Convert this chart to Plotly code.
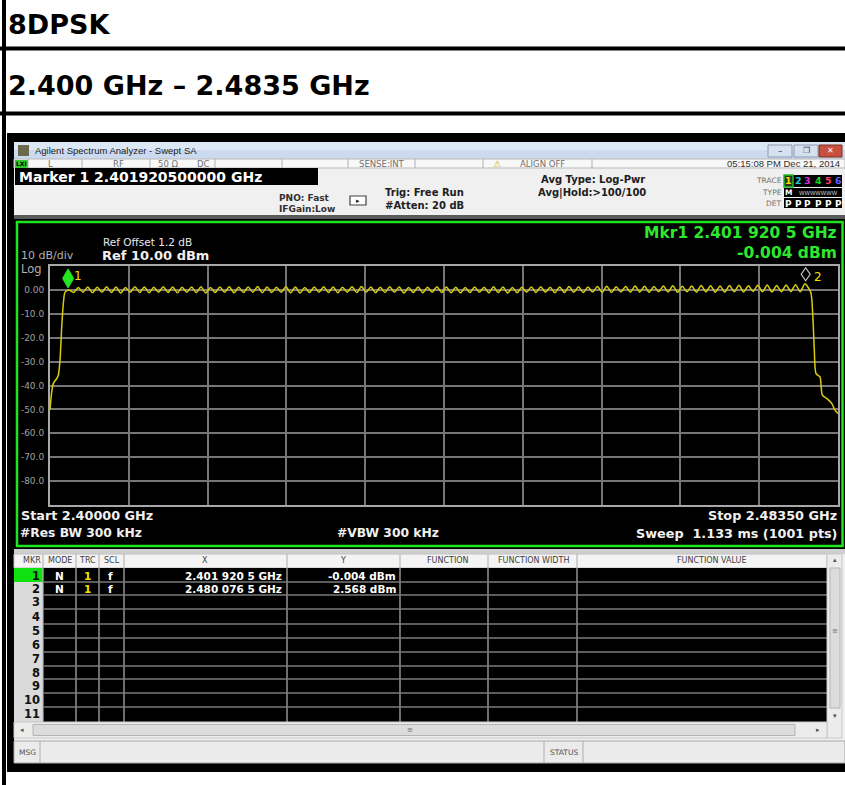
import plotly.graph_objects as go

W, H = 845, 785

# ---------------- data ----------------
heading_mode = "8DPSK"
heading_band = "2.400 GHz – 2.4835 GHz"

start_mhz = 2400.0
stop_mhz = 2483.5
ref_level_dbm = 10.0
bottom_dbm = -90.0

y_tick_values = [0, -10, -20, -30, -40, -50, -60, -70, -80]
y_tick_labels = ["0.00", "-10.0", "-20.0", "-30.0", "-40.0", "-50.0", "-60.0", "-70.0", "-80.0"]
x_grid_mhz = [2408.35, 2416.70, 2425.05, 2433.40, 2441.75, 2450.10, 2458.45, 2466.80, 2475.15]

# trace: lower band edge
left_edge_mhz = [2400.00, 2400.18, 2400.35, 2400.71, 2400.88, 2401.06, 2401.24, 2401.41, 2401.59]
left_edge_dbm = [-50.2, -42.7, -39.2, -37.1, -35.7, -29.5, -15.6, -5.8, -1.0]

# trace: 79 hopping channels (peak at each channel, dip between channels)
channel_mhz = list(range(2402, 2481))
channel_peak_dbm = [
    0.0, 1.0, 1.2, 1.1, 1.3, 1.2, 1.0, 1.3, 1.2, 1.1,
    1.3, 1.2, 1.1, 1.2, 1.3, 1.0, 1.2, 1.3, 1.1, 1.2,
    1.4, 1.2, 1.1, 1.3, 1.2, 1.0, 1.2, 1.3, 1.2, 1.1,
    1.3, 1.4, 1.2, 1.1, 1.3, 1.2, 1.0, 1.2, 1.1, 1.3,
    1.2, 1.1, 1.0, 1.2, 1.1, 1.3, 1.2, 1.0, 1.1, 1.2,
    1.3, 1.1, 1.2, 1.4, 1.3, 1.2, 1.4, 1.5, 1.3, 1.4,
    1.6, 1.5, 1.4, 1.6, 1.7, 1.5, 1.6, 1.8, 1.7, 1.6,
    1.8, 1.9, 1.7, 1.9, 2.0, 1.8, 2.1, 2.2, 2.57,
]
channel_dip_dbm = [
    -1.1, -1.0, -1.2, -1.0, -1.1, -1.3, -1.0, -1.1, -1.2, -1.0,
    -1.1, -1.2, -1.0, -1.1, -1.3, -1.1, -1.0, -1.2, -1.1, -1.0,
    -1.2, -1.1, -1.0, -1.2, -1.3, -1.1, -1.0, -1.1, -1.2, -1.0,
    -1.1, -1.0, -1.2, -1.1, -1.0, -1.3, -1.1, -1.2, -1.0, -1.1,
    -1.2, -1.3, -1.1, -1.0, -1.2, -1.1, -1.3, -1.2, -1.0, -1.1,
    -1.0, -1.2, -1.1, -1.0, -1.1, -0.9, -1.0, -1.1, -0.9, -1.0,
    -0.9, -1.0, -0.8, -0.9, -1.0, -0.8, -0.9, -0.8, -1.0, -0.9,
    -0.8, -0.9, -0.7, -0.8, -0.9, -0.8, -0.7, -0.8,
]

# trace: upper band edge
right_edge_mhz = [2480.61, 2480.82, 2480.99, 2481.17, 2481.59, 2481.84, 2482.30, 2482.83, 2483.18, 2483.50]
right_edge_dbm = [-1.0, -10.0, -25.0, -35.0, -36.4, -44.0, -45.4, -47.5, -50.3, -51.7]

marker_ids = ["1", "2"]
marker_mhz = [2401.9205, 2480.0765]
marker_dbm = [-0.004, 2.568]
marker_x_text = ["2.401 920 5 GHz", "2.480 076 5 GHz"]
marker_y_text = ["-0.004 dBm", "2.568 dBm"]

table_headers = ["MKR", "MODE", "TRC", "SCL", "X", "Y", "FUNCTION", "FUNCTION WIDTH", "FUNCTION VALUE"]
table_rows = list(range(1, 12))

# ---------------- build trace arrays ----------------
trace_x = list(left_edge_mhz)
trace_y = list(left_edge_dbm)
for i, c in enumerate(channel_mhz):
    trace_x.append(c)
    trace_y.append(channel_peak_dbm[i])
    if i < len(channel_dip_dbm):
        trace_x.append(c + 0.5)
        trace_y.append(channel_dip_dbm[i])
trace_x += right_edge_mhz
trace_y += right_edge_dbm

# ---------------- helpers ----------------
SF = "DejaVu Sans"
shapes = []
ann = []


def X(x):
    return x / W


def Y(y):
    return 1 - y / H


def rect(x0, y0, x1, y1, fill, lc=None, lw=0, layer="below"):
    shapes.append(dict(type="rect", xref="paper", yref="paper", x0=X(x0), x1=X(x1), y0=Y(y1), y1=Y(y0),
                       fillcolor=fill, line=dict(color=lc or "rgba(0,0,0,0)", width=lw), layer=layer))


def hl(x0, x1, y, color, lw=1, layer="below"):
    shapes.append(dict(type="line", xref="paper", yref="paper", x0=X(x0), x1=X(x1), y0=Y(y), y1=Y(y),
                       line=dict(color=color, width=lw), layer=layer))


def vl(x, y0, y1, color, lw=1, layer="below"):
    shapes.append(dict(type="line", xref="paper", yref="paper", x0=X(x), x1=X(x), y0=Y(y0), y1=Y(y1),
                       line=dict(color=color, width=lw), layer=layer))


def txt(x, y, s, size, color, anchor="left", bold=False, family=SF):
    ann.append(dict(xref="paper", yref="paper", x=X(x), y=Y(y), text=f"<b>{s}</b>" if bold else s,
                    showarrow=False, xanchor=anchor, yanchor="middle", borderpad=0,
                    font=dict(size=size, color=color, family=family)))


# ---------------- document frame ----------------
rect(2, 0, 6, 785, "black")
rect(0, 46.5, 845, 50.5, "black")
rect(0, 111.5, 845, 115.5, "black")
txt(7, 25, heading_mode, 27, "black", bold=True)
txt(7, 86, heading_band, 27, "black", bold=True)

# screenshot outer black
rect(7, 133, 845, 772, "black")
rect(14, 142, 845, 763, "#f0f0f0")

# title bar
rect(14, 142, 845, 150, "#dde8f6")
rect(14, 150, 845, 159, "#cbdaee")
rect(18, 145, 29, 156, "#6c6a4e")
txt(34, 150.5, "Agilent Spectrum Analyzer - Swept SA", 9.5, "#202020", family="Liberation Sans")
rect(768, 145, 792, 157, "#d6e0ee", "#8a9bb4", 1)
rect(794, 145, 818, 157, "#d6e0ee", "#8a9bb4", 1)
rect(819, 145, 842, 157, "#c94f3f", "#7a3020", 1)
txt(780, 151, "–", 9, "#304060", anchor="center")
txt(806, 151, "❐", 8, "#304060", anchor="center")
txt(830.5, 151, "✕", 8, "white", anchor="center", bold=True)

# status row
rect(14, 159, 845, 168, "#f8f8f8", "#b8b8b8", 1)
rect(15, 160, 28, 168, "#2ec82e")
txt(21.5, 164, "LXI", 6, "black", anchor="center", bold=True)
for sx in [28, 82, 150, 215, 282, 348, 415, 483, 592]:
    vl(sx, 159, 168, "#b0b0b0", 1)
txt(50, 164, "L", 8.5, "#707070", anchor="center")
txt(118, 164, "RF", 8.5, "#707070", anchor="center")
txt(168, 164, "50 Ω", 8.5, "#707070", anchor="center")
txt(203, 164, "DC", 8.5, "#707070", anchor="center")
txt(382, 164, "SENSE:INT", 8.5, "#707070", anchor="center")
txt(497, 164, "⚠", 9, "#c8a800", anchor="center")
txt(542, 164, "ALIGN OFF", 8.5, "#707070", anchor="center")
txt(841, 164, "05:15:08 PM Dec 21, 2014", 9.5, "#303030", anchor="right", family="Liberation Sans")

# marker line and info area
rect(15, 168, 318, 185, "black")
txt(18, 177, "Marker 1 2.401920500000 GHz", 14, "white", bold=True)
txt(278, 198, "PNO: Fast", 9, "#303030", bold=True)
txt(278, 209, "IFGain:Low", 9, "#303030", bold=True)
rect(350, 196, 366, 205, "white", "#404040", 1.2)
txt(358, 201, "▸", 7, "#202020", anchor="center")
txt(384, 193, "Trig: Free Run", 10, "#202020", bold=True)
txt(384, 206, "#Atten: 20 dB", 10, "#202020", bold=True)
txt(540, 180, "Avg Type: Log-Pwr", 10, "#202020", bold=True)
txt(537, 193, "Avg|Hold:>100/100", 10, "#202020", bold=True)

# trace panel
txt(783, 181, "TRACE", 7.5, "#707070", anchor="right")
txt(783, 192.5, "TYPE", 7.5, "#707070", anchor="right")
txt(783, 203.5, "DET", 7.5, "#707070", anchor="right")
rect(793, 175, 842, 187, "black")
rect(784, 175, 793, 187, "#303030", "#20c020", 1.5)
rect(784, 188, 842, 197, "black")
rect(784, 198, 842, 208, "black")
trace_nums = ["1", "2", "3", "4", "5", "6"]
trace_cols = ["#f0e000", "#20c8d8", "#d030d0", "#20d020", "#ff4060", "#6060ff"]
trace_px = [788.5, 798, 807, 818, 828, 838]
for n, c, xp in zip(trace_nums, trace_cols, trace_px):
    txt(xp, 181, n, 9.5, c, anchor="center", bold=True)
    txt(xp, 203.5, "P", 9, "white", anchor="center", bold=True)
txt(788.5, 192.5, "M", 7.5, "white", anchor="center", bold=True)
txt(818, 192.5, "WWWWWWW", 5.5, "#d0d0d0", anchor="center")

# display area
rect(14, 215, 845, 219, "#5a5a5a")
rect(14, 219, 845, 549, "black")
rect(17, 222, 842.5, 546, "rgba(0,0,0,0)", "#1ee61e", 2.5)
txt(102, 242, "Ref Offset 1.2 dB", 10.5, "#e8e8e8")
txt(101, 256, "Ref 10.00 dBm", 13, "#f0f0f0", bold=True)
txt(20, 256, "10 dB/div", 11, "#b0b0b0")
txt(20, 268.5, "Log", 11.5, "#b0b0b0")
txt(838, 233, "Mkr1 2.401 920 5 GHz", 15.5, "#2ee82e", anchor="right", bold=True)
txt(838, 253, "-0.004 dBm", 15.5, "#2ee82e", anchor="right", bold=True)
txt(20, 515, "Start 2.40000 GHz", 12.8, "#f0f0f0", bold=True)
txt(19, 533, "#Res BW 300 kHz", 12.3, "#f0f0f0", bold=True)
txt(388, 533, "#VBW 300 kHz", 12.3, "#f0f0f0", anchor="center", bold=True)
txt(838, 515, "Stop 2.48350 GHz", 12.8, "#f0f0f0", anchor="right", bold=True)
txt(838, 533, "Sweep  1.133 ms (1001 pts)", 12.8, "#f0f0f0", anchor="right", bold=True)

# marker table
rect(14, 549, 845, 554, "#cfcfcf")
rect(14, 554, 827, 568, "#f4f4f4", "#c0c0c0", 1)
rect(14, 568, 827, 722, "black")
rect(14, 568, 43, 722, "#dadada")
rect(14, 568, 43, 582, "#10e010")
col_sep = [43, 76, 99, 124, 287, 400, 488, 577]
for cx in col_sep:
    vl(cx, 554, 722, "#b8b8b8", 1.2)
for ry in [582, 595, 609, 624, 638, 652, 666, 679, 693, 707]:
    hl(43, 827, ry, "#7a7a7a", 1.5)
hdr_x = [32, 60, 87.5, 112, 205, 343, 448, 533, 712]
for hx, h in zip(hdr_x, table_headers):
    txt(hx, 560.5, h, 8, "#404040", anchor="center")
row_y = [575.5, 588.5, 602, 616.5, 631, 645, 659, 672.5, 686, 700, 714]
for r, ry in zip(table_rows, row_y):
    txt(41, ry, str(r), 11.5, "#101010", anchor="right", bold=True)
for i in range(len(marker_ids)):
    ry = row_y[i]
    txt(59, ry, "N", 10.5, "white", anchor="center", bold=True)
    txt(87.5, ry, "1", 10.5, "#f0e000", anchor="center", bold=True)
    txt(111, ry, "f", 10.5, "white", anchor="center", bold=True)
    txt(283, ry, marker_x_text[i], 10.5, "white", anchor="right", bold=True)
    txt(397, ry, marker_y_text[i], 10.5, "white", anchor="right", bold=True)

# scrollbars
rect(827, 554, 842, 738, "#ececec", "#c8c8c8", 1)
rect(830, 568, 840, 708, "#dcdcdc", "#b4b4b4", 1)
txt(834.5, 560, "▴", 7, "#505050", anchor="center")
txt(834.5, 716, "▾", 7, "#505050", anchor="center")
txt(834.5, 631, "≡", 7, "#707070", anchor="center")
rect(14, 722, 827, 738, "#ececec", "#c8c8c8", 1)
rect(33, 724.5, 795, 735.5, "#dcdcdc", "#b4b4b4", 1)
txt(22, 730, "◂", 7, "#505050", anchor="center")
txt(818, 730, "▸", 7, "#505050", anchor="center")
txt(410, 730, "≡", 7, "#707070", anchor="center")

# message bar
rect(14, 741, 845, 763, "#ebebeb", "#a8a8a8", 1)
vl(40, 741, 763, "#b0b0b0", 1)
vl(544, 741, 763, "#b0b0b0", 1)
vl(583, 741, 763, "#b0b0b0", 1)
txt(27, 752, "MSG", 7.5, "#505050", anchor="center")
txt(563.5, 752, "STATUS", 7.5, "#505050", anchor="center")

# markers on the trace
shapes.append(dict(type="path", xref="x", yref="y", xsizemode="pixel", ysizemode="pixel",
                   xanchor=marker_mhz[0], yanchor=marker_dbm[0],
                   path="M 0 2 L 5.5 11.5 L 0 21 L -5.5 11.5 Z",
                   fillcolor="#22e622", line=dict(color="#22e622", width=1), layer="above"))
shapes.append(dict(type="path", xref="x", yref="y", xsizemode="pixel", ysizemode="pixel",
                   xanchor=marker_mhz[1], yanchor=marker_dbm[1],
                   path="M 0 3 L 4.5 9.5 L 0 16 L -4.5 9.5 Z",
                   fillcolor="black", line=dict(color="#c8c8c8", width=1.2), layer="above"))
ann.append(dict(x=marker_mhz[0], y=marker_dbm[0], xref="x", yref="y", text=marker_ids[0], showarrow=False,
                xshift=10, yshift=14, font=dict(size=12, color="#f0e000", family=SF)))
ann.append(dict(x=marker_mhz[1], y=marker_dbm[1], xref="x", yref="y", text=marker_ids[1], showarrow=False,
                xshift=12, yshift=7, font=dict(size=12, color="#f0e000", family=SF)))

fig = go.Figure()
fig.add_trace(go.Scatter(x=trace_x, y=trace_y, mode="lines",
                         line=dict(color="#d8cc10", width=1.5, shape="spline", smoothing=0.7),
                         hoverinfo="skip", showlegend=False))

fig.update_layout(
    width=W, height=H,
    margin=dict(l=0, r=0, t=0, b=0, autoexpand=False),
    paper_bgcolor="white",
    plot_bgcolor="rgba(0,0,0,0)",
    showlegend=False,
    shapes=shapes,
    annotations=ann,
    xaxis=dict(domain=[X(50), X(838)], range=[start_mhz, stop_mhz], tickvals=x_grid_mhz,
               showticklabels=False, ticks="", showgrid=True, gridcolor="#767676", gridwidth=1.5,
               zeroline=False, showline=True, mirror=True, linecolor="#a8a8a8", linewidth=2,
               fixedrange=True),
    yaxis=dict(domain=[Y(505), Y(266)], range=[bottom_dbm, ref_level_dbm], tickvals=y_tick_values,
               ticktext=y_tick_labels, ticks="", showgrid=True, gridcolor="#767676", gridwidth=1.5,
               zeroline=False, showline=True, mirror=True, linecolor="#a8a8a8", linewidth=2,
               tickfont=dict(size=9, color="#a0a0a0", family=SF), ticklabelstandoff=2,
               fixedrange=True),
)

fig.write_html("out.html", config={"displayModeBar": False},
               post_script="document.body.style.margin='0';document.body.style.padding='0';"
                           "document.documentElement.style.overflow='hidden';")
